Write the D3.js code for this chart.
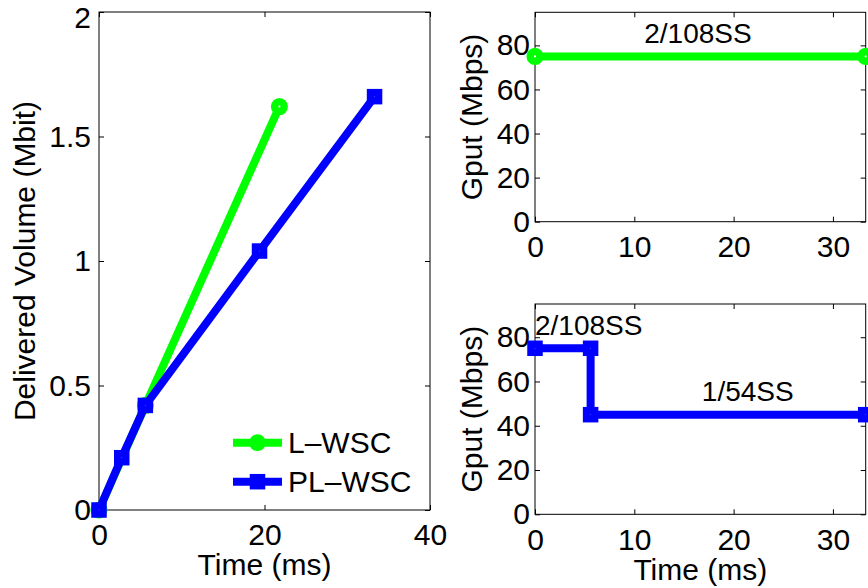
<!DOCTYPE html>
<html>
<head>
<meta charset="utf-8">
<script src="https://cdn.jsdelivr.net/npm/d3@7"></script>
<style>
  html, body { margin: 0; padding: 0; background: #fff; }
  svg { display: block; }
  text { font-family: "Liberation Sans", Arial, Helvetica, sans-serif; fill: #000; }
</style>
</head>
<body>
<svg id="chart" width="868" height="588"></svg>
<script>
// Delivered volume over time for the two schemes
const lwscTime = [0, 5.6, 21.8];
const lwscVolume = [0, 0.42, 1.62];
const plwscTime = [0, 2.75, 5.6, 19.4, 33.3];
const plwscVolume = [0, 0.21, 0.42, 1.04, 1.66];

// Goodput per scheme (Mbps)
const lwscGputTime = [0, 33.3];
const lwscGput = [75, 75];
const plwscGputTime = [0, 5.6, 5.6, 33.3];
const plwscGput = [75, 75, 45, 45];

// Axis ticks
const volTimeTicks = [0, 20, 40];
const volTicks = [0, 0.5, 1, 1.5, 2];
const gputTimeTicks = [0, 10, 20, 30];
const gputTicks = [0, 20, 40, 60, 80];

// Rate annotations
const topNotes = [{ t: 11, g: 81, label: "2/108SS" }];
const bottomNotes = [
  { t: 0, g: 81, label: "2/108SS" },
  { t: 16.8, g: 51, label: "1/54SS" }
];

const seriesNames = ["L–WSC", "PL–WSC"];
const GREEN = "#00ff00", BLUE = "#0000ff";
const LW = 8;

const svg = d3.select("#chart");

function panel(box, xDomain, yDomain, xTicks, yTicks, yFmt, xLabel, yLabel, yLabelX, yTickGap) {
  const x = d3.scaleLinear().domain(xDomain).range([box.l, box.r]);
  const y = d3.scaleLinear().domain(yDomain).range([box.b, box.t]);
  const g = svg.append("g");

  g.append("rect")
    .attr("x", box.l).attr("y", box.t)
    .attr("width", box.r - box.l).attr("height", box.b - box.t)
    .attr("fill", "#fff").attr("stroke", "#000").attr("stroke-width", 1);

  const style = sel => {
    sel.select(".domain").remove();
    sel.selectAll(".tick line").attr("stroke", "#000").attr("stroke-width", 1);
    sel.selectAll(".tick text").attr("font-size", 30).style("font-family", "'Liberation Sans', Arial, sans-serif").attr("fill", "#000");
  };

  g.append("g").attr("transform", `translate(0,${box.b})`)
    .call(d3.axisBottom(x).tickValues(xTicks).tickSizeInner(-5).tickSizeOuter(0).tickPadding(14).tickFormat(d3.format("d")))
    .call(style);
  g.append("g").attr("transform", `translate(0,${box.t})`)
    .call(d3.axisTop(x).tickValues(xTicks).tickSizeInner(-5).tickSizeOuter(0).tickFormat(""))
    .call(style);
  const yAxis = g.append("g").attr("transform", `translate(${box.l},0)`)
    .call(d3.axisLeft(y).tickValues(yTicks).tickSizeInner(-5).tickSizeOuter(0).tickPadding(yTickGap).tickFormat(yFmt))
    .call(style);
  // keep the topmost tick label inside the figure
  yAxis.selectAll(".tick text").filter(d => y(d) < 20).attr("dy", "0.5em");
  g.append("g").attr("transform", `translate(${box.r},0)`)
    .call(d3.axisRight(y).tickValues(yTicks).tickSizeInner(-5).tickSizeOuter(0).tickFormat(""))
    .call(style);

  if (xLabel) {
    g.append("text")
      .attr("x", (box.l + box.r) / 2).attr("y", xLabel.y)
      .attr("text-anchor", "middle").attr("font-size", 30)
      .text(xLabel.text);
  }
  g.append("text")
    .attr("transform", `translate(${yLabelX},${(box.t + box.b) / 2}) rotate(-90)`)
    .attr("text-anchor", "middle").attr("font-size", 30)
    .text(yLabel);

  return { g, x, y };
}

function drawSeries(p, xs, ys, color, shape) {
  const pts = xs.map((t, i) => [p.x(t), p.y(ys[i])]);
  p.g.append("path")
    .attr("d", d3.line()(pts))
    .attr("fill", "none").attr("stroke", color)
    .attr("stroke-width", LW).attr("stroke-linejoin", "miter");
  drawMarkers(p.g, pts, color, shape);
}

function drawMarkers(g, pts, color, shape) {
  if (shape === "circle") {
    g.selectAll(null).data(pts).enter().append("circle")
      .attr("cx", d => d[0]).attr("cy", d => d[1]).attr("r", 4.8)
      .attr("fill", "#fff").attr("stroke", color).attr("stroke-width", 7.5);
  } else {
    g.selectAll(null).data(pts).enter().append("rect")
      .attr("x", d => d[0] - 4).attr("y", d => d[1] - 4)
      .attr("width", 8).attr("height", 8)
      .attr("fill", "#fff").attr("stroke", color).attr("stroke-width", 7.5);
  }
}

// Left panel: delivered volume
const left = panel({ l: 99, r: 430, t: 12, b: 510 }, [0, 40], [0, 2], volTimeTicks, volTicks,
  d => d3.format("")(d), { y: 575, text: "Time (ms)" }, "Delivered Volume (Mbit)", 35, 8);
drawSeries(left, lwscTime, lwscVolume, GREEN, "circle");
drawSeries(left, plwscTime, plwscVolume, BLUE, "square");

// Legend
const legendRows = [
  { name: seriesNames[0], color: GREEN, shape: "circle", y: 442.7 },
  { name: seriesNames[1], color: BLUE, shape: "square", y: 481.7 }
];
legendRows.forEach(r => {
  left.g.append("line").attr("x1", 233).attr("x2", 282).attr("y1", r.y).attr("y2", r.y)
    .attr("stroke", r.color).attr("stroke-width", LW);
  if (r.shape === "circle") {
    left.g.append("circle").attr("cx", 257.5).attr("cy", r.y).attr("r", 4.8)
      .attr("fill", r.color).attr("stroke", r.color).attr("stroke-width", 7.2);
  } else {
    left.g.append("rect").attr("x", 253.5).attr("y", r.y - 4).attr("width", 8).attr("height", 8)
      .attr("fill", r.color).attr("stroke", r.color).attr("stroke-width", 7.5);
  }
  left.g.append("text").attr("x", 288).attr("y", r.y + 10.6)
    .attr("font-size", 30).text(r.name);
});

// Top right: L-WSC goodput
const topR = panel({ l: 535, r: 865.7, t: 12.3, b: 221.7 }, [0, 33.3], [0, 95], gputTimeTicks, gputTicks,
  d3.format("d"), null, "Gput (Mbps)", 482, 5);
drawSeries(topR, lwscGputTime, lwscGput, GREEN, "circle");
topNotes.forEach(n => topR.g.append("text").attr("x", topR.x(n.t)).attr("y", topR.y(n.g))
  .attr("font-size", 28).text(n.label));

// Bottom right: PL-WSC goodput
const botR = panel({ l: 535, r: 865.7, t: 304, b: 514.3 }, [0, 33.3], [0, 95], gputTimeTicks, gputTicks,
  d3.format("d"), { y: 580, text: "Time (ms)" }, "Gput (Mbps)", 482, 5);
drawSeries(botR, plwscGputTime, plwscGput, BLUE, "square");
bottomNotes.forEach(n => botR.g.append("text").attr("x", botR.x(n.t)).attr("y", botR.y(n.g))
  .attr("font-size", 28).text(n.label));
</script>
</body>
</html>
